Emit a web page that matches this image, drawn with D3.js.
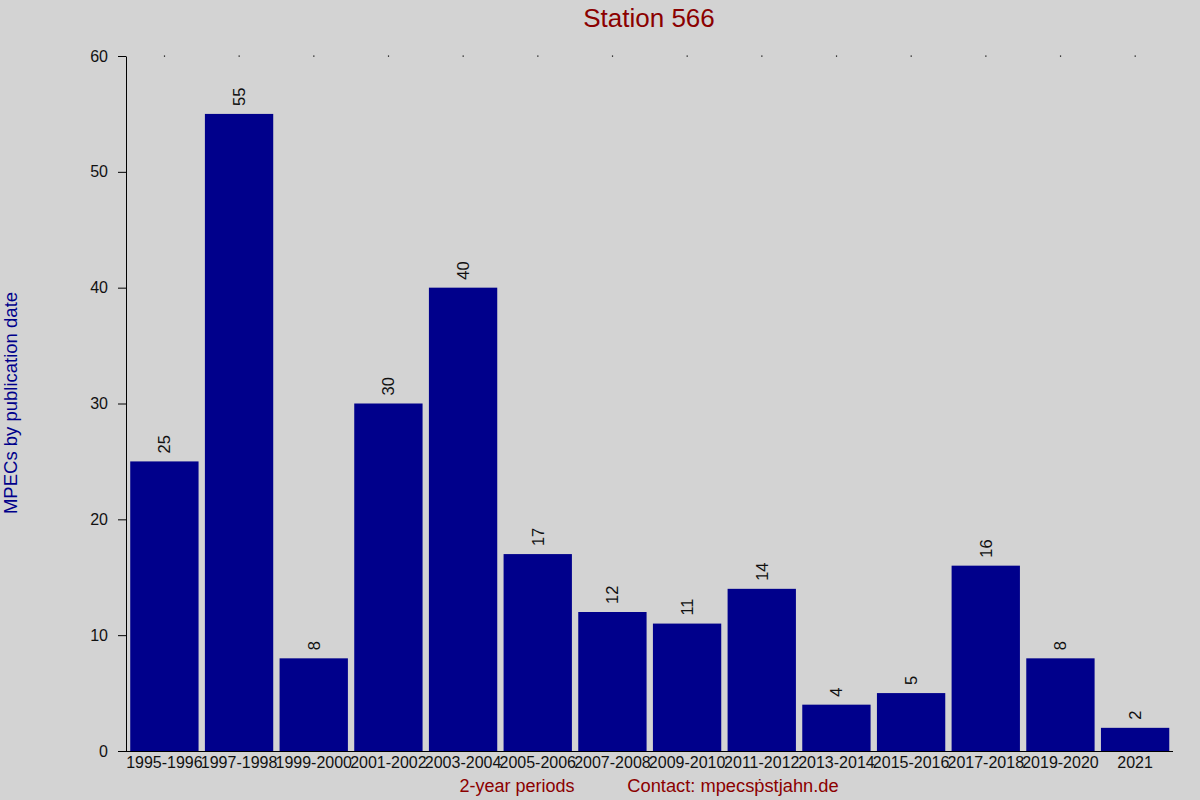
<!DOCTYPE html>
<html>
<head>
<meta charset="utf-8">
<script src="https://cdnjs.cloudflare.com/ajax/libs/d3/7.8.5/d3.min.js"></script>
<style>
  body { margin: 0; background: #d3d3d3; }
  svg { display: block; font-family: "Liberation Sans", Arial, sans-serif; }
</style>
</head>
<body>
<div id="chart"></div>
<script>
var periods = ['1995-1996', '1997-1998', '1999-2000', '2001-2002', '2003-2004',
  '2005-2006', '2007-2008', '2009-2010', '2011-2012', '2013-2014', '2015-2016',
  '2017-2018', '2019-2020', '2021'];
var counts = [25, 55, 8, 30, 40, 17, 12, 11, 14, 4, 5, 16, 8, 2];
var yTicks = [0, 10, 20, 30, 40, 50, 60];

var W = 1200, H = 800;
var margin = {top: 56, right: 27, bottom: 49, left: 126};

var svg = d3.select('#chart').append('svg')
  .attr('width', W).attr('height', H);

svg.append('rect').attr('width', W).attr('height', H).attr('fill', '#d3d3d3');

var x = d3.scaleBand()
  .domain(periods)
  .range([margin.left + 0.5, W - margin.right])
  .paddingInner(0.085)
  .paddingOuter(0.05);

var y = d3.scaleLinear()
  .domain([0, 60])
  .range([H - margin.bottom, margin.top]);

// bars
svg.append('g').selectAll('rect')
  .data(counts)
  .enter().append('rect')
    .attr('x', function(d, i) { return x(periods[i]); })
    .attr('y', function(d) { return y(d); })
    .attr('width', x.bandwidth())
    .attr('height', function(d) { return y(0) - y(d); })
    .attr('fill', '#00008b');

// value labels, rotated
svg.append('g').selectAll('text')
  .data(counts)
  .enter().append('text')
    .attr('transform', function(d, i) {
      var cx = x(periods[i]) + x.bandwidth() / 2 + 6;
      return 'translate(' + cx + ',' + (y(d) - 8) + ') rotate(-90)';
    })
    .attr('font-size', 16.5)
    .attr('fill', '#111')
    .text(function(d) { return d; });

// little dots along the top
svg.append('g').selectAll('rect')
  .data(periods)
  .enter().append('rect')
    .attr('x', function(d) { return x(d) + x.bandwidth() / 2 - 0.5; })
    .attr('y', y(60) - 0.5)
    .attr('width', 1.2).attr('height', 1.2)
    .attr('fill', '#000');

// y axis
var yAxis = svg.append('g')
  .attr('transform', 'translate(' + margin.left + ',0)')
  .call(d3.axisLeft(y).tickValues(yTicks).tickSize(8).tickSizeOuter(0).tickPadding(10));
yAxis.selectAll('text').attr('font-size', 16).attr('fill', '#111')
  .attr('font-family', '"Liberation Sans", Arial, sans-serif');
yAxis.selectAll('line, path').attr('stroke', '#000');

// x axis
var xAxis = svg.append('g')
  .attr('transform', 'translate(0,' + y(0) + ')')
  .call(d3.axisBottom(x).tickSize(0).tickSizeOuter(0).tickPadding(6));
xAxis.select('.domain')
  .attr('d', 'M' + margin.left + ',0.5H' + (W - margin.right))
  .attr('stroke', '#000');
xAxis.selectAll('text').attr('font-size', 16).attr('fill', '#111')
  .attr('font-family', '"Liberation Sans", Arial, sans-serif');

// title
svg.append('text')
  .attr('x', 649).attr('y', 27)
  .attr('text-anchor', 'middle')
  .attr('font-size', 26)
  .attr('fill', '#8b0000')
  .text('Station 566');

// y label
svg.append('text')
  .attr('transform', 'translate(17,403) rotate(-90)')
  .attr('text-anchor', 'middle')
  .attr('font-size', 18.5)
  .attr('fill', '#00008b')
  .text('MPECs by publication date');

// x labels
svg.append('text')
  .attr('x', 517).attr('y', 792)
  .attr('text-anchor', 'middle')
  .attr('font-size', 18)
  .attr('fill', '#8b0000')
  .text('2-year periods');

svg.append('text')
  .attr('x', 733).attr('y', 792)
  .attr('text-anchor', 'middle')
  .attr('font-size', 18.3)
  .attr('fill', '#8b0000')
  .text('Contact: mpecs\u1E57stjahn.de');
</script>
</body>
</html>
